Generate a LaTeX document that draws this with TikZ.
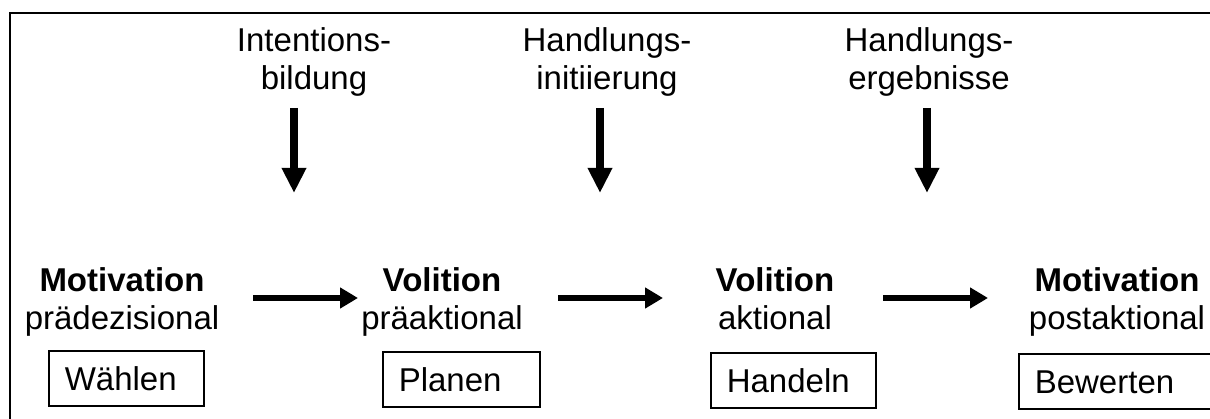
\documentclass[tikz,border=0pt]{standalone}
\usepackage{fontspec}
\setmainfont{Liberation Sans}
\usetikzlibrary{arrows.meta}

\tikzset{
  % multi-line labels are placed by the baseline of their last line
  lbl/.style={inner sep=0pt, anchor=base, align=center,
              font=\fontsize{33}{38}\selectfont},
  phasebox/.style={draw, line width=1.6pt, inner xsep=16pt, inner ysep=0pt,
                   anchor=north west, align=left,
                   minimum height=55pt, text height=24pt, text depth=0pt,
                   font=\fontsize{33}{38}\selectfont},
  flowarrow/.style={line width=6pt,
                    -{Triangle[length=18pt, width=20pt]}},
  downarrow/.style={line width=8pt,
                    -{Triangle[length=25pt, width=23pt]}},
}

\begin{document}
\begin{tikzpicture}[x=1pt, y=-1pt]
  \useasboundingbox (0,0) rectangle (1210,419);
  \clip (0,0) rectangle (1210,419);

  % outer frame (runs past the right and bottom edges)
  \draw[line width=2pt] (10,13) rectangle (1240,450);

  % upper transition labels
  \node[lbl] (intent) at (314,90) {Intentions-\\bildung};
  \node[lbl] (init)   at (607,90) {Handlungs-\\initiierung};
  \node[lbl] (result) at (929,90) {Handlungs-\\ergebnisse};

  % phase labels
  \node[lbl] (ph1) at (122,330) {\textbf{Motivation}\\prädezisional};
  \node[lbl] (ph2) at (442,330) {\textbf{Volition}\\präaktional};
  \node[lbl] (ph3) at (775,330) {\textbf{Volition}\\aktional};
  \node[lbl] (ph4) at (1117,330) {\textbf{Motivation}\\postaktional};

  % activity boxes
  \node[phasebox, text width=123pt] (b1) at (48,350)  {Wählen};
  \node[phasebox, text width=125pt] (b2) at (382,351) {Planen};
  \node[phasebox, text width=133pt] (b3) at (710,352) {Handeln};
  \node[phasebox, text width=190pt] (b4) at (1018,353) {Bewerten};

  % arrow end points
  \coordinate (d1s) at (294,108);  \coordinate (d1e) at (294,193);
  \coordinate (d2s) at (600,108);  \coordinate (d2e) at (600,193);
  \coordinate (d3s) at (927,108);  \coordinate (d3e) at (927,193);
  \coordinate (h1s) at (253,298);  \coordinate (h1e) at (358,298);
  \coordinate (h2s) at (558,298);  \coordinate (h2e) at (663,298);
  \coordinate (h3s) at (883,298);  \coordinate (h3e) at (988,298);

  % transitions into each phase
  \draw[downarrow] (d1s) -- (d1e);
  \draw[downarrow] (d2s) -- (d2e);
  \draw[downarrow] (d3s) -- (d3e);

  % sequence of phases
  \draw[flowarrow] (h1s) -- (h1e);
  \draw[flowarrow] (h2s) -- (h2e);
  \draw[flowarrow] (h3s) -- (h3e);
\end{tikzpicture}
\end{document}
